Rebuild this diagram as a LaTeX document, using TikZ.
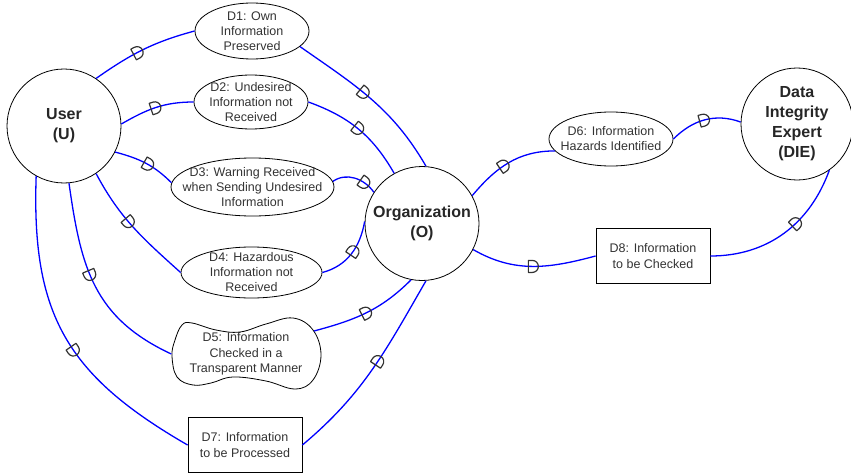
\documentclass[tikz,border=0pt]{standalone}
\usepackage{fontspec}
\setmainfont{Liberation Sans}
\usetikzlibrary{shapes.geometric,decorations.markings}
\begin{document}
\begin{tikzpicture}[x=1pt,y=1pt,
  actor/.style={circle,draw=black,line width=0.8pt,minimum size=114pt,inner sep=0pt,
    align=center,font=\fontsize{16}{20}\selectfont\bfseries,text=black!85},
  goal/.style={ellipse,draw=black,line width=0.8pt,inner xsep=-20pt,inner ysep=-6pt,
    align=center,font=\fontsize{12.5}{15}\selectfont,text=black!80},
  res/.style={rectangle,draw=black,line width=0.8pt,inner sep=0pt,minimum width=114pt,
    minimum height=55pt,align=center,font=\fontsize{12.5}{15.5}\selectfont,text=black!80},
  soft/.style={rectangle,inner sep=0pt,minimum width=149pt,minimum height=70pt,
    align=center,font=\fontsize{12.5}{15.5}\selectfont,text=black!80},
  link/.style={draw=blue,line width=1.3pt},
  dline/.style={draw=black!80,line width=1.2pt,line join=round},
  dep/.style={postaction={decorate,decoration={markings,mark=at position #1 with
    {\draw[dline] (-5,-6) -- (-5,6) -- (-1,6) arc[start angle=90,end angle=-90,radius=6] -- cycle;}}}},
  deprev/.style={postaction={decorate,decoration={markings,mark=at position #1 with
    {\draw[dline,rotate=180] (-5,-6) -- (-5,6) -- (-1,6) arc[start angle=90,end angle=-90,radius=6] -- cycle;}}}}
]
\useasboundingbox (0,0) rectangle (851,475);

% actors
\node[actor] (U) at (64,349) {User\\(U)};
\node[actor] (O) at (422,251.5) {Organization\\(O)};
\node[actor,minimum size=112pt] (DIE) at (797,351) {Data\\Integrity\\Expert\\(DIE)};

% dependums
\node[goal,minimum width=114pt,minimum height=56pt] (D1) at (252,444) {D1: Own\\Information\\Preserved};
\node[goal,minimum width=114pt,minimum height=54pt] (D2) at (251,373) {D2: Undesired\\Information not\\Received};
\node[goal,minimum width=163pt,minimum height=58pt] (D3) at (252.5,288) {D3: Warning Received\\when Sending Undesired\\Information};
\node[goal,minimum width=141pt,minimum height=51pt] (D4) at (251.5,202.5) {D4: Hazardous\\Information not\\Received};
\node[soft] (D5) at (246,121) {D5: Information\\Checked in a\\Transparent Manner};
\begin{scope}[shift={(D5.center)}]
  \draw[line width=0.8pt] plot[smooth cycle,tension=0.65] coordinates
    {(-74,-2) (-71,14) (-64,29) (-54,31) (-30,24) (-6,22) (20,30) (47,36) (67,24) (75,-1)
     (67,-26) (49,-35) (20,-27) (-13,-23) (-35,-29) (-53,-31) (-69,-23)};
\end{scope}
\node[goal,minimum width=124pt,minimum height=54pt] (D6) at (611,336) {D6: Information\\Hazards Identified};
\node[res] (D7) at (245,30) {D7: Information\\to be Processed};
\node[res] (D8) at (653,219) {D8: Information\\to be Checked};

% dependency links
\draw[link,dep=0.45] (U.56) to[out=35,in=195] (D1.west);
\draw[link,dep=0.45] (D1.-18) to[out=-35,in=120] (O.86);
\draw[link,dep=0.5] (U.2) to[out=30,in=180] (D2.west);
\draw[link,dep=0.5] (D2.east) to[out=-20,in=120] (O.119);
\draw[link,dep=0.55] (U.-27) to[out=-15,in=135] (D3.177);
\draw[link,dep=0.72] (D3.4) to[out=35,in=125] (O.147);
\draw[link,dep=0.45] (U.-56) to[out=-62,in=138] (D4.west);
\draw[link,dep=0.55] (D4.east) to[out=15,in=-100] (O.178);
\draw[link,dep=0.45] (U.-85) to[out=-82,in=155,looseness=1.1] (D5.west);
\draw[link,dep=0.5] ([shift={(68,23)}]D5.center) to[out=15,in=-135] (O.-101);
\draw[link,dep=0.55] (U.-119) to[out=-92,in=150,looseness=1.15] (D7.west);
\draw[link,dep=0.55] (D7.east) to[out=40,in=-120] (O.-86);
\draw[link,dep=0.45] (O.29) to[out=50,in=180] (D6.192);
\draw[link,dep=0.5] (D6.east) to[out=45,in=160] (DIE.178);
\draw[link,deprev=0.4] (DIE.-55) to[out=-110,in=0] (D8.east);
\draw[link,deprev=0.5] (D8.west) to[out=195,in=-30] (O.-27);
\end{tikzpicture}
\end{document}
